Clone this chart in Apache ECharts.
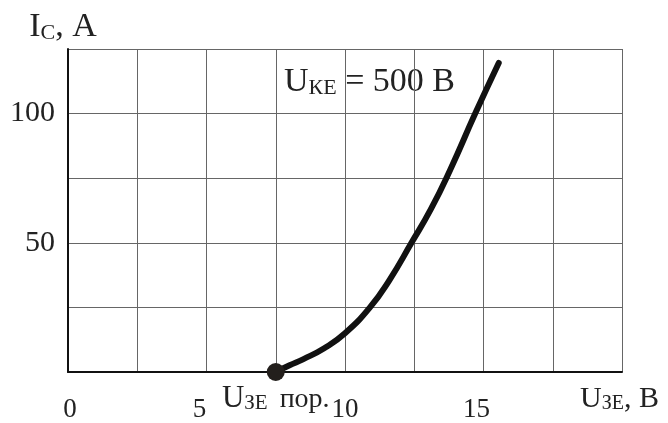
<!DOCTYPE html>
<html>
<head>
<meta charset="utf-8">
<script src="https://cdn.jsdelivr.net/npm/echarts@6/dist/echarts.min.js"></script>
<style>
html,body{margin:0;padding:0;background:#fff;}
#chart{width:668px;height:423px;}
</style>
</head>
<body>
<div id="chart"></div>
<script>
// Data
var curveX = [7.5, 8.0, 8.5, 9.25, 10.0, 10.9, 11.6, 12.4, 13.1, 13.8, 14.7, 15.55];
var curveY = [0, 2.6, 5.0, 9.2, 15.0, 25.0, 35.5, 50.0, 63.0, 78.3, 100.0, 119.6];
var xTickLabels = [0, 5, 10, 15];
var yTickLabels = [50, 100];
var thresholdPoint = [7.5, 0];

var FONT = '"Liberation Serif", "Times New Roman", serif';
var INK = '#222';

var curveData = curveX.map(function (x, i) { return [x, curveY[i]]; });

var chart = echarts.init(document.getElementById('chart'), null, {renderer: 'canvas'});
chart.setOption({
  animation: false,
  backgroundColor: '#fff',
  grid: {left: 68, right: 46, top: 49, bottom: 49, containLabel: false},
  xAxis: {
    type: 'value', min: 0, max: 20, interval: 2.5,
    axisLine: {show: true, lineStyle: {color: '#111', width: 2}},
    axisTick: {show: false},
    splitLine: {show: true, lineStyle: {color: '#666', width: 1}},
    axisLabel: {
      show: true, margin: 24, color: INK, fontFamily: FONT, fontSize: 27,
      formatter: function (v) {
        if (xTickLabels.indexOf(v) < 0) return '';
        if (v === 0) return '{a|0}';
        if (v === 5) return '{b|5}';
        if (v === 15) return '{b|15}';
        return '{c|' + v + '}';
      },
      rich: {
        a: {fontFamily: FONT, fontSize: 27, color: INK, padding: [0, 0, 0, 4]},
        b: {fontFamily: FONT, fontSize: 27, color: INK, padding: [0, 14, 0, 0]},
        c: {fontFamily: FONT, fontSize: 27, color: INK}
      }
    },
    name: '{u|U}{s|ЗЕ}{r|, В}',
    nameLocation: 'end',
    nameGap: -42,
    nameTextStyle: {
      align: 'left', verticalAlign: 'top', padding: [12, 0, 0, 0],
      rich: {
        u: {fontFamily: FONT, fontSize: 30, color: INK, verticalAlign: 'bottom', lineHeight: 30},
        s: {fontFamily: FONT, fontSize: 20, color: INK, verticalAlign: 'bottom', lineHeight: 22},
        r: {fontFamily: FONT, fontSize: 30, color: INK, verticalAlign: 'bottom', lineHeight: 30}
      }
    }
  },
  yAxis: {
    type: 'value', min: 0, max: 125, interval: 25,
    axisLine: {show: true, lineStyle: {color: '#111', width: 2}},
    axisTick: {show: false},
    splitLine: {show: true, lineStyle: {color: '#666', width: 1}},
    axisLabel: {
      show: true, margin: 13, color: INK, fontFamily: FONT, fontSize: 30,
      formatter: function (v) { return yTickLabels.indexOf(v) >= 0 ? String(v) : ''; }
    },
    name: '{i|I}{s|C}{r|, A}',
    nameLocation: 'end',
    nameGap: 5,
    nameTextStyle: {
      align: 'center', verticalAlign: 'bottom', padding: [0, 0, 0, -10],
      rich: {
        i: {fontFamily: FONT, fontSize: 34, color: INK, verticalAlign: 'bottom', lineHeight: 34},
        s: {fontFamily: FONT, fontSize: 22, color: INK, verticalAlign: 'bottom', lineHeight: 24},
        r: {fontFamily: FONT, fontSize: 34, color: INK, verticalAlign: 'bottom', lineHeight: 34}
      }
    }
  },
  graphic: [{
    type: 'text', left: 284, top: 65, silent: true,
    style: {
      text: '{u|U}{s|КЕ}{r| = 500 В}',
      rich: {
        u: {fontFamily: FONT, fontSize: 34, fill: INK, verticalAlign: 'bottom', lineHeight: 34},
        s: {fontFamily: FONT, fontSize: 22, fill: INK, verticalAlign: 'bottom', lineHeight: 25},
        r: {fontFamily: FONT, fontSize: 34, fill: INK, verticalAlign: 'bottom', lineHeight: 34}
      }
    }
  }],
  series: [{
    type: 'line',
    data: curveData,
    smooth: 0.5,
    showSymbol: false,
    symbol: 'none',
    lineStyle: {color: '#111', width: 6, cap: 'round'},
    z: 5
  }, {
    type: 'scatter',
    data: [{
      value: thresholdPoint,
      label: {
        show: true, position: 'bottom', distance: 2,
        formatter: '{u|U}{s|ЗЕ}{p|пор.}',
        rich: {
          u: {fontFamily: FONT, fontSize: 31, color: INK, verticalAlign: 'bottom', lineHeight: 31},
          s: {fontFamily: FONT, fontSize: 21, color: INK, verticalAlign: 'bottom', lineHeight: 23},
          p: {fontFamily: FONT, fontSize: 28, color: INK, verticalAlign: 'bottom', lineHeight: 29, padding: [0, 0, 0, 12]}
        }
      }
    }],
    symbol: 'circle',
    symbolSize: 18,
    itemStyle: {color: '#231f1c', opacity: 1},
    z: 6
  }]
});
</script>
</body>
</html>
